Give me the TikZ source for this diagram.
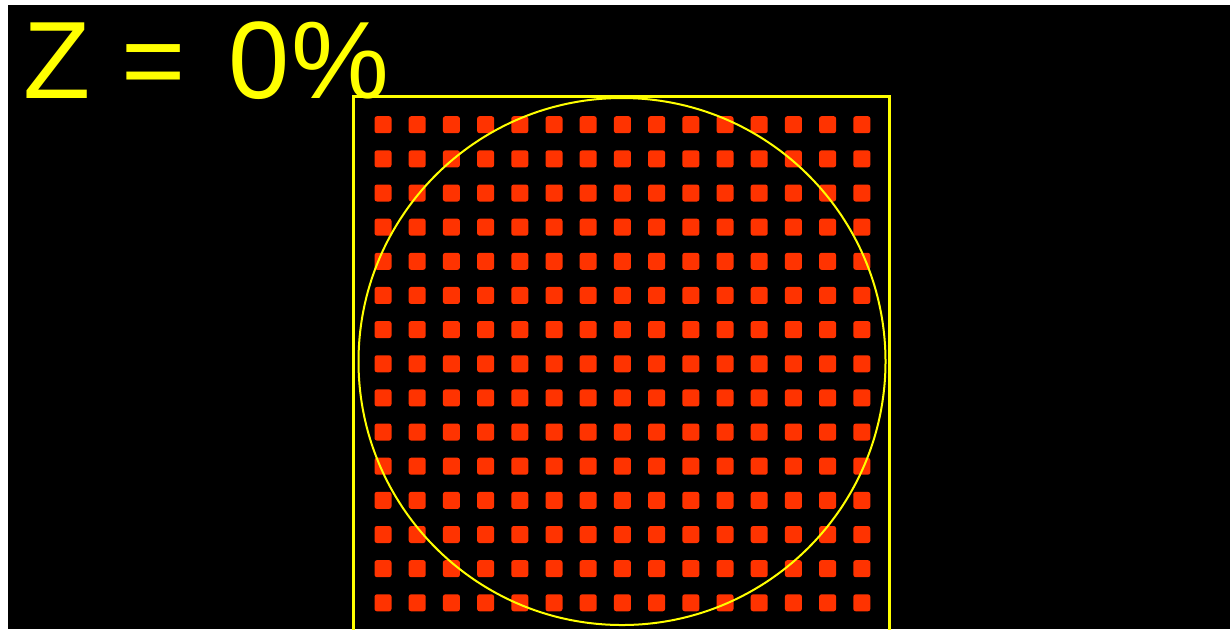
\documentclass[tikz,border=0pt]{standalone}
\usepackage{fontspec}
\setmainfont{Liberation Sans}
\usetikzlibrary{positioning}
\definecolor{frameyellow}{RGB}{255,255,0}
\definecolor{spotred}{RGB}{255,51,0}

\begin{document}
\begin{tikzpicture}[ x=0.5pt, y=-0.5pt, frame/.style={frameyellow, line width=1.5pt},
      ring/.style={frameyellow, line width=1pt},
      spot/.style={fill=spotred, rounded corners=1.2pt} ]

  % Canvas
  \useasboundingbox (0,0) rectangle (1230,629);
  \fill[white] (0,0) rectangle (1230,629);
  \fill[black] (8,5) rectangle (1230,629);

  \begin{scope}
    \clip (8,5) rectangle (1230,629);

    % Grid of spots
    \foreach \i in {0,...,14} \foreach \j in {0,...,14}
      \fill[spot] ({383+34.2*\i-8.5},{124.7+34.15*\j-8.5}) rectangle
      ++(17,17);

    % Square and circle
    \draw[frame] (353.7,96.5) rectangle (889,640);
    \draw[ring] (622,361.5) circle[radius=131.75pt];
  \end{scope}

  % Label
  \node[anchor=base west, inner sep=0pt, text=frameyellow,
    font=\fontsize{55pt}{60pt}\selectfont] (zlabel) at (23,98)
    {Z = \hspace{6.5pt}0\hspace{0.5pt}\%};
\end{tikzpicture}
\end{document}
